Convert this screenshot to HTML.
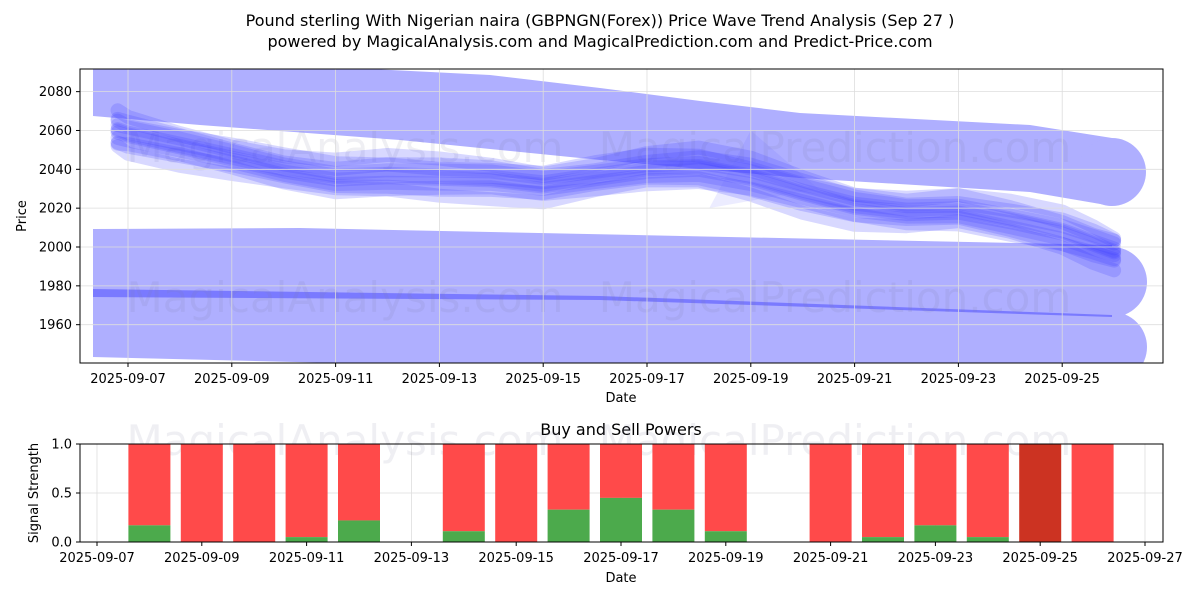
<!DOCTYPE html>
<html><head><meta charset="utf-8"><style>
body{margin:0;background:#fff;font-family:"Liberation Sans","DejaVu Sans",sans-serif}
svg text{font-family:"DejaVu Sans","Liberation Sans",sans-serif}
</style></head><body>
<svg id="c" width="1200" height="600" xmlns="http://www.w3.org/2000/svg">
<text x="600" y="26" text-anchor="middle" font-size="16">Pound sterling With Nigerian naira (GBPNGN(Forex)) Price Wave Trend Analysis (Sep 27 )</text>
<text x="600" y="47" text-anchor="middle" font-size="16">powered by MagicalAnalysis.com and MagicalPrediction.com and Predict-Price.com</text>
<defs><clipPath id="cp1"><rect x="80" y="69" width="1083" height="294"/></clipPath></defs>
<g id="topg" clip-path="url(#cp1)"></g>
<g id="topaxes"></g>
<g id="botg"></g>
</svg>
<script>
const priceDays=[-0.2,0,1,2,3,4,5,6,7,8,9,10,11,12,13,14,15,16,17,18,18.6,19];
const priceVals=[2060,2058,2052,2046,2040,2036,2037,2036,2035,2032,2036,2040,2041,2036,2028,2021,2018,2019,2014,2008,2002,1998];
const topTicks=["2025-09-07","2025-09-09","2025-09-11","2025-09-13","2025-09-15","2025-09-17","2025-09-19","2025-09-21","2025-09-23","2025-09-25"];
const yTicks=[1960,1980,2000,2020,2040,2060,2080];
const barDays=[1,2,3,4,5,7,8,9,10,11,12,14,15,16,17,18,19];
const buyVals=[0.17,0,0,0.05,0.22,0.11,0,0.33,0.45,0.33,0.11,0,0.05,0.17,0.05,0,0];
const botTicks=["2025-09-07","2025-09-09","2025-09-11","2025-09-13","2025-09-15","2025-09-17","2025-09-19","2025-09-21","2025-09-23","2025-09-25","2025-09-27"];
const botTickDays=[0,2,4,6,8,10,12,14,16,18,20];
const NS="http://www.w3.org/2000/svg";
function mk(p,t,a){const e=document.createElementNS(NS,t);for(const k in a)e.setAttribute(k,a[k]);p.appendChild(e);return e;}
const X=d=>128+d*51.9, Y=v=>247-(v-2000)*1.942;
const BX=d=>97+d*52.4, BY=v=>542-v*98;
const topG=document.getElementById('topg'), ta=document.getElementById('topaxes'), botG=document.getElementById('botg');
yTicks.forEach(v=>{const l=mk(ta,'line',{x1:80,x2:1163,y1:Y(v),y2:Y(v),stroke:'#ddd','stroke-width':0.8});});
topTicks.forEach((s,i)=>{const l=mk(ta,'line',{x1:X(i*2),x2:X(i*2),y1:69,y2:363,stroke:'#ddd','stroke-width':0.8});});
const bc='#afafff';
let b=mk(topG,'path',{d:'M93,55 L490,75 L600,88 L700,101 L800,113 L1030,125 L1112,138 L1112,206 L1030,192 L800,178 L600,160 L400,140 L200,125 L93,116Z',fill:bc});

mk(topG,'circle',{cx:1112,cy:172,r:34,fill:bc});
b=mk(topG,'path',{d:'M93,229 L300,228 L1112,245 L1112,382 L93,357Z',fill:bc});

mk(topG,'circle',{cx:1112,cy:282,r:35,fill:bc});mk(topG,'circle',{cx:1112,cy:347,r:35,fill:bc});
b=mk(topG,'path',{d:'M93,289 L600,296 L1112,315 L1112,317 L600,300 L93,297Z',fill:'#7a7aff'});

[[345,150],[835,150],[345,300],[835,300]].forEach((p,i)=>{const q=mk(topG,'text',{x:p[0],y:p[1]+12,'font-size':42,'text-anchor':'middle',fill:'rgba(120,120,160,0.12)'});q.textContent=i%2?'MagicalPrediction.com':'MagicalAnalysis.com';});
const offs=[-8,-5,-3,-1,0,1,3,5,8,-6,6];
offs.forEach((o,j)=>{let d='';priceDays.forEach((dd,i)=>{d+=(i?'L':'M')+X(dd).toFixed(1)+','+(Y(priceVals[i]+o*(1+0.3*Math.sin(i+j)))).toFixed(1);});
const p=mk(topG,'path',{d:d,fill:'none',stroke:'rgba(60,60,255,0.2)','stroke-width':14,'stroke-linejoin':'round','stroke-linecap':'round'});
});
b=mk(topG,'path',{d:`M${X(11.2)},${Y(2020)} L${X(12)},${Y(2060)} L${X(13.3)},${Y(2030)}Z`,fill:'rgba(100,100,255,0.12)'});

let r=mk(ta,'rect',{x:80,y:69,width:1083,height:294,fill:'none',stroke:'#000','stroke-width':1});

yTicks.forEach(v=>{mk(ta,'line',{x1:76,x2:80,y1:Y(v),y2:Y(v),stroke:'#000'});const q=mk(ta,'text',{x:72,y:Y(v)+4.5,'font-size':13,'text-anchor':'end'});q.textContent=v;});
topTicks.forEach((s,i)=>{mk(ta,'line',{x1:X(i*2),x2:X(i*2),y1:363,y2:367,stroke:'#000'});const q=mk(ta,'text',{x:X(i*2),y:383,'font-size':13,'text-anchor':'middle'});q.textContent=s;});
let tt=mk(ta,'text',{x:621,y:402,'font-size':13,'text-anchor':'middle'});tt.textContent='Date';
tt=mk(ta,'text',{x:26,y:216,'font-size':13,'text-anchor':'middle',transform:'rotate(-90 26 216)'});tt.textContent='Price';
tt=mk(botG,'text',{x:621,y:435,'font-size':16,'text-anchor':'middle'});tt.textContent='Buy and Sell Powers';
[0,0.5,1].forEach(v=>{mk(botG,'line',{x1:80,x2:1163,y1:BY(v),y2:BY(v),stroke:'#ddd','stroke-width':0.8});mk(botG,'line',{x1:76,x2:80,y1:BY(v),y2:BY(v),stroke:'#000'});const q=mk(botG,'text',{x:72,y:BY(v)+4.5,'font-size':13,'text-anchor':'end'});q.textContent=v.toFixed(1);});
botTickDays.forEach((d,i)=>{mk(botG,'line',{x1:BX(d),x2:BX(d),y1:444,y2:542,stroke:'#ddd','stroke-width':0.8});mk(botG,'line',{x1:BX(d),x2:BX(d),y1:542,y2:546,stroke:'#000'});const q=mk(botG,'text',{x:BX(d),y:562,'font-size':13,'text-anchor':'middle'});q.textContent=botTicks[i];});
[[345,455],[835,455]].forEach((p,i)=>{const q=mk(botG,'text',{x:p[0],y:p[1],'font-size':42,'text-anchor':'middle',fill:'rgba(120,120,160,0.12)'});q.textContent=i?'MagicalPrediction.com':'MagicalAnalysis.com';});
barDays.forEach((d,i)=>{const w=42,x=BX(d)-w/2,g=buyVals[i];
const red=mk(botG,'rect',{x:x,y:BY(1),width:w,height:BY(g)-BY(1),fill:d===18?'#cc3322':'#ff4a4a'});

const gr=mk(botG,'rect',{x:x,y:BY(g),width:w,height:BY(0)-BY(g),fill:'#4caa4c'});
});
r=mk(botG,'rect',{x:80,y:444,width:1083,height:98,fill:'none',stroke:'#000','stroke-width':1});

tt=mk(botG,'text',{x:621,y:582,'font-size':13,'text-anchor':'middle'});tt.textContent='Date';
tt=mk(botG,'text',{x:38,y:493,'font-size':13,'text-anchor':'middle',transform:'rotate(-90 38 493)'});tt.textContent='Signal Strength';
</script>
</body></html>
